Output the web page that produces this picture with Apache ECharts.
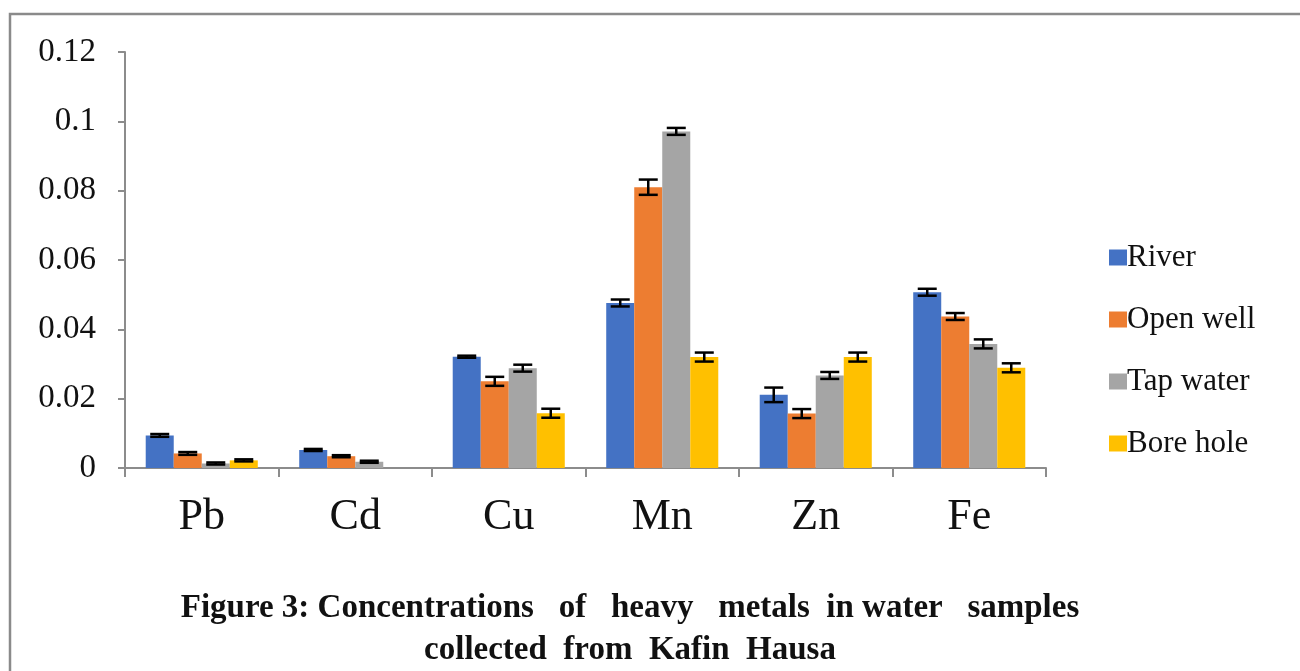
<!DOCTYPE html>
<html>
<head>
<meta charset="utf-8">
<script src="https://cdn.jsdelivr.net/npm/echarts@6/dist/echarts.min.js"></script>
<style>html,body{margin:0;padding:0;background:#fff;}#c{width:1300px;height:671px;}</style>
</head>
<body>
<div id="c"></div>
<script>
const categories = ['Pb', 'Cd', 'Cu', 'Mn', 'Zn', 'Fe'];
const seriesNames = ['River', 'Open well', 'Tap water', 'Bore hole'];
const river = [0.0094, 0.0052, 0.0321, 0.0476, 0.0211, 0.0507];
const openWell = [0.0042, 0.0034, 0.0250, 0.0810, 0.0157, 0.0437];
const tapWater = [0.0013, 0.0018, 0.0288, 0.0971, 0.0267, 0.0358];
const boreHole = [0.0022, 0, 0.0158, 0.0320, 0.0320, 0.0289];
const riverErr = [0.0004, 0.0003, 0.0003, 0.0010, 0.0021, 0.0010];
const openWellErr = [0.0004, 0.0003, 0.0013, 0.0022, 0.0013, 0.0010];
const tapWaterErr = [0.0003, 0.0003, 0.0010, 0.0010, 0.0010, 0.0013];
const boreHoleErr = [0.0003, 0, 0.0013, 0.0013, 0.0013, 0.0013];
const yTicks = ['0', '0.02', '0.04', '0.06', '0.08', '0.1', '0.12'];

const values = [river, openWell, tapWater, boreHole];
const errors = [riverErr, openWellErr, tapWaterErr, boreHoleErr];
const colors = ['#4472C4', '#ED7D31', '#A5A5A5', '#FFC000'];
const gap = 0.27;
const serif = '"Liberation Serif", "DejaVu Serif", serif';

const chart = echarts.init(document.getElementById('c'));
const series = [];
values.forEach((v, i) => {
  series.push({
    name: seriesNames[i], type: 'bar', data: v,
    barCategoryGap: (gap * 100) + '%', barGap: '0%',
    itemStyle: { color: colors[i] }, emphasis: { disabled: true }
  });
});
values.forEach((v, i) => {
  series.push({
    type: 'custom', silent: true, z: 10,
    data: v.map((val, j) => [j, val, errors[i][j]]),
    renderItem: function (params, api) {
      const err = api.value(2);
      if (!err) return null;
      const catW = api.size([1, 0])[0];
      const barW = catW * (1 - gap) / 4;
      const off = -catW * (1 - gap) / 2 + barW * (i + 0.5);
      const val = api.value(1);
      const top = api.coord([api.value(0), val + err]);
      const bot = api.coord([api.value(0), val - err]);
      const x = top[0] + off;
      const hw = 9.5;
      const st = { stroke: '#000', lineWidth: 2.5 };
      return {
        type: 'group', children: [
          { type: 'line', shape: { x1: x, y1: top[1], x2: x, y2: bot[1] }, style: st },
          { type: 'line', shape: { x1: x - hw, y1: top[1], x2: x + hw, y2: top[1] }, style: st },
          { type: 'line', shape: { x1: x - hw, y1: bot[1], x2: x + hw, y2: bot[1] }, style: st }
        ]
      };
    }
  });
});

chart.setOption({
  animation: false,
  backgroundColor: '#fff',
  grid: { left: 125, right: 254, top: 52, bottom: 203 },
  legend: {
    data: seriesNames.map((n, i) => ({ name: n, itemStyle: { color: colors[i] } })),
    orient: 'vertical', left: 1104, top: 237,
    itemWidth: 18, itemHeight: 16, itemGap: 31,
    icon: 'rect',
    textStyle: { fontFamily: serif, fontSize: 31, color: '#111', padding: [0, 0, 0, -5], lineHeight: 30 }
  },
  xAxis: {
    type: 'category', data: categories,
    axisLine: { lineStyle: { color: '#8c8c8c', width: 2 } },
    axisTick: { show: true, length: 9, lineStyle: { color: '#8c8c8c', width: 2 } },
    axisLabel: { fontFamily: serif, fontSize: 44, color: '#111', margin: 27 }
  },
  yAxis: {
    type: 'value', min: 0, max: 0.12, interval: 0.02,
    axisLine: { show: true, lineStyle: { color: '#8c8c8c', width: 2 } },
    axisTick: { show: true, length: 7, lineStyle: { color: '#8c8c8c', width: 2 } },
    splitLine: { show: false },
    axisLabel: {
      fontFamily: serif, fontSize: 33, color: '#111', margin: 29,
      formatter: function (v) { return yTicks[Math.round(v / 0.02)]; }
    }
  },
  graphic: [
    { type: 'rect', shape: { x: 10, y: 14, width: 1400, height: 800 }, style: { fill: null, stroke: '#8a8a8a', lineWidth: 2.5 }, silent: true },
    { type: 'text', x: 630, y: 592, style: { text: 'Figure 3: Concentrations   of   heavy   metals  in water   samples', align: 'center', fontFamily: serif, fontSize: 33, fontWeight: 'bold', fill: '#111' } },
    { type: 'text', x: 630, y: 634, style: { text: 'collected  from  Kafin  Hausa', align: 'center', fontFamily: serif, fontSize: 33, fontWeight: 'bold', fill: '#111' } }
  ],
  series: series
});
</script>
</body>
</html>
